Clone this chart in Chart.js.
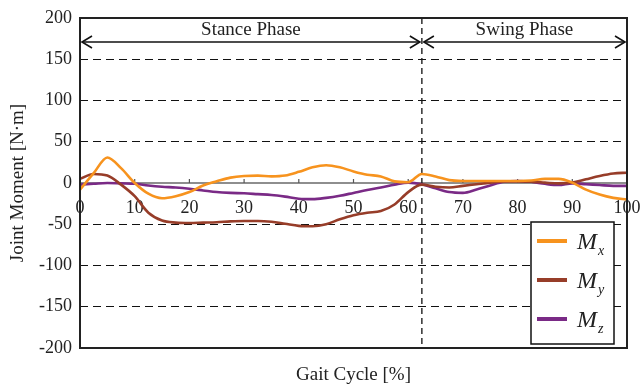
<!DOCTYPE html>
<html>
<head>
<meta charset="utf-8">
<script src="https://cdn.jsdelivr.net/npm/chart.js@4"></script>
<style>
  html, body { margin: 0; padding: 0; background: #fff; }
  canvas { display: block; }
</style>
</head>
<body>
<canvas id="chart" width="641" height="390"></canvas>
<script>
// Gait cycle sample positions [%]
const gaitCycle = [0, 2.5, 5, 7.5, 10, 12.5, 15, 17.5, 20, 22.5, 25, 27.5, 30, 32.5, 35, 37.5, 40, 42.5, 45, 47.5,
  50, 52.5, 55, 57.5, 60, 62.5, 65, 67.5, 70, 72.5, 75, 77.5, 80, 82.5, 85, 87.5, 90, 92.5, 95, 97.5, 100];

// Joint moment components [N·m]
const momentX = [-8, 12, 31, 18, 0, -13, -18.5, -16, -11, -3, 2, 6.5, 8.5, 9, 8, 9, 13.5, 19, 21.5, 19,
  14, 10, 8, 2, 1, 11, 8, 3.5, 2.5, 2.5, 2.5, 2.5, 2.5, 3, 5, 5, 0.5, -8, -14, -18, -20];
const momentY = [5, 11, 9, -2, -16, -36, -45.5, -48, -48.5, -48, -47.5, -46.5, -46, -46, -47, -49.5, -52, -52.5, -50, -44,
  -39, -36, -34, -26, -11, -2, -4.5, -5.5, -3.5, -1.5, 0.5, 2, 2, 1.5, 0.5, -0.5, 0.5, 4.5, 8.5, 11.5, 12.5];
const momentZ = [-2, -1, 0, -0.5, -1, -3, -4.5, -5.5, -7, -9, -11, -12, -12.5, -13.5, -14.5, -16.5, -19, -19.5, -18, -15.5,
  -12, -8.5, -5.5, -2, 0.5, -1.5, -6.5, -11, -12, -8, -3, 1.5, 2.5, 1.5, -1, -2.5, -0.5, -1.5, -2.5, -3.5, -3.5];

const seriesLabels = ['Mx', 'My', 'Mz'];
const seriesColors = ['#f7931e', '#973d29', '#7a2a86'];

const yTickStep = 50;
const phaseSplit = 62.5;
const phaseNames = ['Stance Phase', 'Swing Phase'];
const xTitle = 'Gait Cycle [%]';
const yTitle = 'Joint Moment [N·m]';

const SERIF = "'Liberation Serif', 'Times New Roman', serif";
const INK = '#222';

function toPoints(values) {
  return gaitCycle.map((g, i) => ({ x: g, y: values[i] }));
}

function seg(ctx, x1, y1, x2, y2) {
  ctx.beginPath();
  ctx.moveTo(x1, y1);
  ctx.lineTo(x2, y2);
  ctx.stroke();
}

function arrowHead(ctx, x, y, dir) {
  ctx.beginPath();
  ctx.moveTo(x - dir * 10, y - 6);
  ctx.lineTo(x, y);
  ctx.lineTo(x - dir * 10, y + 6);
  ctx.stroke();
}

// Zero line, tick marks, phase divider, frame, phase arrows, axis title and legend
const decor = {
  id: 'decor',
  beforeDatasetsDraw(chart) {
    const { ctx, chartArea: a, scales: { x, y } } = chart;
    const y0 = y.getPixelForValue(0);
    ctx.save();
    ctx.strokeStyle = '#8e8e8e';
    ctx.lineWidth = 2;
    seg(ctx, a.left, y0, a.right, y0);
    ctx.strokeStyle = '#555';
    ctx.lineWidth = 1.2;
    x.ticks.forEach(t => {
      const px = x.getPixelForValue(t.value);
      seg(ctx, px, y0, px, y0 - 4);
    });
    ctx.strokeStyle = '#111';
    ctx.lineWidth = 1.3;
    ctx.setLineDash([6, 4]);
    const xs = x.getPixelForValue(phaseSplit);
    seg(ctx, xs, a.top, xs, a.bottom);
    ctx.restore();
  },
  afterDatasetsDraw(chart) {
    const { ctx, chartArea: a, scales: { x } } = chart;
    const xs = x.getPixelForValue(phaseSplit);
    ctx.save();
    // frame
    ctx.strokeStyle = INK;
    ctx.lineWidth = 2;
    ctx.strokeRect(a.left, a.top, a.right - a.left, a.bottom - a.top);
    // phase arrows
    const ay = a.top + 24;
    ctx.strokeStyle = '#111';
    ctx.lineWidth = 1.6;
    seg(ctx, a.left + 2, ay, xs - 2, ay);
    arrowHead(ctx, a.left + 2, ay, -1);
    arrowHead(ctx, xs - 2, ay, 1);
    seg(ctx, xs + 2, ay, a.right - 2, ay);
    arrowHead(ctx, xs + 2, ay, -1);
    arrowHead(ctx, a.right - 2, ay, 1);
    ctx.fillStyle = INK;
    ctx.font = '19px ' + SERIF;
    ctx.textAlign = 'center';
    ctx.textBaseline = 'middle';
    ctx.fillText(phaseNames[0], (a.left + xs) / 2, a.top + 12);
    ctx.fillText(phaseNames[1], (xs + a.right) / 2, a.top + 12);
    // x axis title
    ctx.fillText(xTitle, (a.left + a.right) / 2, a.bottom + 27);
    ctx.restore();
  },
  afterDraw(chart) {
    const { ctx, chartArea: a } = chart;
    const bx = a.right - 96, by = a.bottom - 126, bw = 83, bh = 122;
    ctx.save();
    ctx.fillStyle = '#fff';
    ctx.fillRect(bx, by, bw, bh);
    ctx.strokeStyle = '#111';
    ctx.lineWidth = 1.5;
    ctx.strokeRect(bx, by, bw, bh);
    chart.data.datasets.forEach((ds, i) => {
      const cy = by + 19 + i * 39;
      ctx.strokeStyle = ds.borderColor;
      ctx.lineWidth = 4;
      seg(ctx, bx + 6, cy, bx + 36, cy);
      ctx.fillStyle = INK;
      ctx.textAlign = 'left';
      ctx.textBaseline = 'alphabetic';
      ctx.font = 'italic 24px ' + SERIF;
      const main = ds.label.charAt(0);
      ctx.fillText(main, bx + 46, cy + 8);
      const w = ctx.measureText(main).width;
      ctx.font = 'italic 14px ' + SERIF;
      ctx.fillText(ds.label.slice(1), bx + 46 + w + 1, cy + 14);
    });
    ctx.restore();
  }
};

const datasets = [momentX, momentY, momentZ].map((vals, i) => ({
  label: seriesLabels[i],
  data: toPoints(vals),
  borderColor: seriesColors[i],
  backgroundColor: seriesColors[i],
  borderWidth: 2.6,
  pointRadius: 0,
  cubicInterpolationMode: 'monotone',
  fill: false
}));

new Chart(document.getElementById('chart'), {
  type: 'line',
  data: { datasets },
  options: {
    responsive: false,
    devicePixelRatio: 1,
    animation: false,
    events: [],
    layout: { padding: { left: 0, top: 18, right: 14, bottom: 42 } },
    plugins: { legend: { display: false }, tooltip: { enabled: false } },
    scales: {
      x: {
        type: 'linear',
        min: 0,
        max: 100,
        position: { y: 0 },
        ticks: { stepSize: 10, autoSkip: false, maxRotation: 0, padding: 14,
          color: INK, font: { family: SERIF, size: 18 } },
        grid: { display: false, drawTicks: false },
        border: { display: false },
        afterFit(scale) { scale.paddingLeft = 0; scale.paddingRight = 0; }
      },
      y: {
        min: -200,
        max: 200,
        ticks: { stepSize: yTickStep, padding: 8, color: INK, font: { family: SERIF, size: 18 } },
        grid: {
          drawTicks: false,
          lineWidth: 1,
          color: c => (c.tick && (c.tick.value === 0 || Math.abs(c.tick.value) === 200)) ? 'rgba(0,0,0,0)' : '#111'
        },
        border: { display: false, dash: [8, 5] },
        title: { display: true, text: yTitle, color: INK, font: { family: SERIF, size: 19 },
          padding: { top: 7, bottom: 0 } },
        afterFit(scale) { scale.width = 80; scale.paddingTop = 0; scale.paddingBottom = 0; }
      }
    }
  },
  plugins: [decor]
});
</script>
</body>
</html>
